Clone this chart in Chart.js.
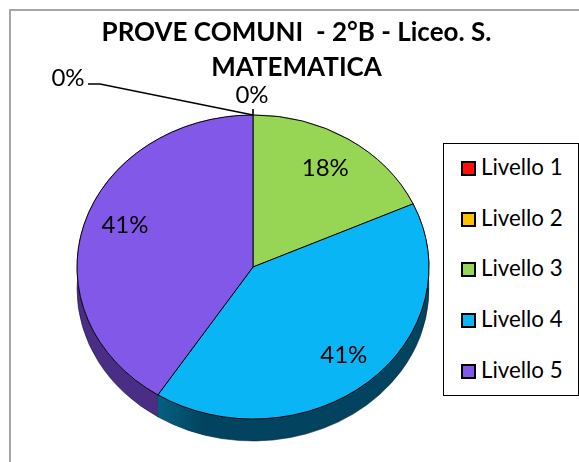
<!DOCTYPE html>
<html>
<head>
<meta charset="utf-8">
<script src="https://cdn.jsdelivr.net/npm/chart.js@4"></script>
<style>
  html, body { margin: 0; padding: 0; width: 579px; height: 462px; overflow: hidden; background: #fff; }
  #frame { position: absolute; left: 9px; top: 9px; width: 700px; height: 700px; border: 2px solid #a6a6a6; }
  canvas { position: absolute; left: 0; top: 0; }
  #title { position: absolute; left: 80px; top: 14px; width: 433px; text-align: center;
           font: bold 26px/35px Lato, sans-serif; color: #000; }
  #legend { position: absolute; left: 443px; top: 143px; width: 134px; height: 251px; border: 1.5px solid #000; background: #fff; }
  .row { position: absolute; left: 17px; height: 26px; font: 22.3px/26px Lato, sans-serif; color: #000; white-space: nowrap; }
  .row i { display: inline-block; width: 11px; height: 11px; border: 2px solid #000; margin-right: 5px; vertical-align: -1px; }
</style>
</head>
<body>
<div id="frame"></div>
<canvas id="chart" width="579" height="462"></canvas>
<div id="title">PROVE COMUNI&nbsp; - 2°B - Liceo. S. MATEMATICA</div>
<div id="legend"></div>
<script>
const labels = ['Livello 1', 'Livello 2', 'Livello 3', 'Livello 4', 'Livello 5'];
const values = [0, 0, 4, 9, 9];   // students per level, the labels show them as percentages
const colors = ['#ff0f0f', '#ffc000', '#97d654', '#09b5f5', '#8258e8'];
const sideColors = ['#801010', '#806000', '#4c6b2a', '#02445f', '#4a2e85'];
const sideLight = ['#801010', '#806000', '#4c6b2a', '#055f82', '#5b3ba3'];
const labelNudge = [[0, 0], [0, 0], [-1, 0], [2, 0], [2, -9]];

const squash = 152 / 176;   // pie is drawn flattened
const depth = 22;
const labelPos = 0.77;
const total = values.reduce((a, b) => a + b, 0);
const pct = v => Math.round(v / total * 100) + '%';

const legendBox = document.getElementById('legend');
legendBox.innerHTML = labels.map((l, i) =>
  `<div class="row" style="top:${10 + i * 50.7}px"><i style="background:${colors[i]}"></i>${l}</div>`
).join('');

const pie3d = {
  id: 'pie3d',
  beforeDatasetsDraw(chart) {
    const ctx = chart.ctx;
    const arcs = chart.getDatasetMeta(0).data;
    const { x, y } = arcs[0];
    ctx.save();
    ctx.translate(x, y);
    ctx.scale(1, squash);
    ctx.translate(-x, -y);
    // side wall, below the top face
    arcs.forEach((a, i) => {
      if (values[i] === 0) return;
      const R = a.outerRadius, d = depth / squash;
      const g = ctx.createLinearGradient(x + R * Math.cos(a.endAngle), 0, x + R * Math.cos(a.startAngle), 0);
      g.addColorStop(0, i === 4 ? sideLight[i] : sideColors[i]);
      g.addColorStop(1, sideColors[i]);
      ctx.beginPath();
      ctx.arc(x, y, R, a.startAngle, a.endAngle);
      ctx.arc(x, y + d, R, a.endAngle, a.startAngle, true);
      ctx.closePath();
      ctx.fillStyle = g;
      ctx.fill();
      ctx.lineWidth = 0.6;
      ctx.strokeStyle = '#0b1a2a';
      ctx.stroke();
    });
    // lighter start of the blue wall
    const b = arcs[3], R = b.outerRadius, d = depth / squash;
    const left = x + R * Math.cos(b.endAngle);
    const g2 = ctx.createLinearGradient(left, 0, left + 45, 0);
    g2.addColorStop(0, sideLight[3]);
    g2.addColorStop(1, sideColors[3]);
    ctx.beginPath();
    ctx.arc(x, y, R, b.endAngle, b.endAngle - 0.4, true);
    ctx.arc(x, y + d, R, b.endAngle - 0.4, b.endAngle);
    ctx.closePath();
    ctx.fillStyle = g2;
    ctx.fill();
  },
  afterDatasetsDraw(chart) {
    const ctx = chart.ctx;
    ctx.restore();
    const arcs = chart.getDatasetMeta(0).data;
    const { x, y } = arcs[0];
    ctx.save();
    ctx.font = '24px Lato, sans-serif';
    ctx.fillStyle = '#000';
    ctx.textAlign = 'center';
    ctx.textBaseline = 'middle';
    arcs.forEach((a, i) => {
      if (values[i] === 0) return;
      const mid = (a.startAngle + a.endAngle) / 2;
      const r = a.outerRadius * labelPos;
      ctx.fillText(pct(values[i]), x + r * Math.cos(mid) + labelNudge[i][0], y + r * Math.sin(mid) * squash + labelNudge[i][1]);
    });
    // the two empty slices get labels outside, with leader lines
    const topY = y - arcs[0].outerRadius * squash;
    ctx.fillText(pct(values[1]), x - 1, topY - 20);
    ctx.fillText(pct(values[0]), x - 185, topY - 37);
    ctx.beginPath();
    ctx.moveTo(x, topY);
    ctx.lineTo(x, topY - 6);
    ctx.moveTo(x, topY);
    ctx.lineTo(x - 153, topY - 31);
    ctx.lineTo(x - 165, topY - 31);
    ctx.strokeStyle = '#000';
    ctx.lineWidth = 1.6;
    ctx.stroke();
    ctx.restore();
  }
};

new Chart(document.getElementById('chart').getContext('2d'), {
  type: 'pie',
  data: {
    labels: labels,
    datasets: [{
      data: values,
      backgroundColor: colors,
      borderColor: '#000',
      borderWidth: 1
    }]
  },
  options: {
    responsive: false,
    animation: false,
    layout: { padding: { left: 76.5, right: 149.5, top: 90.5, bottom: 18.5 } },
    plugins: { legend: { display: false }, title: { display: false }, tooltip: { enabled: false } }
  },
  plugins: [pie3d]
});
</script>
</body>
</html>
